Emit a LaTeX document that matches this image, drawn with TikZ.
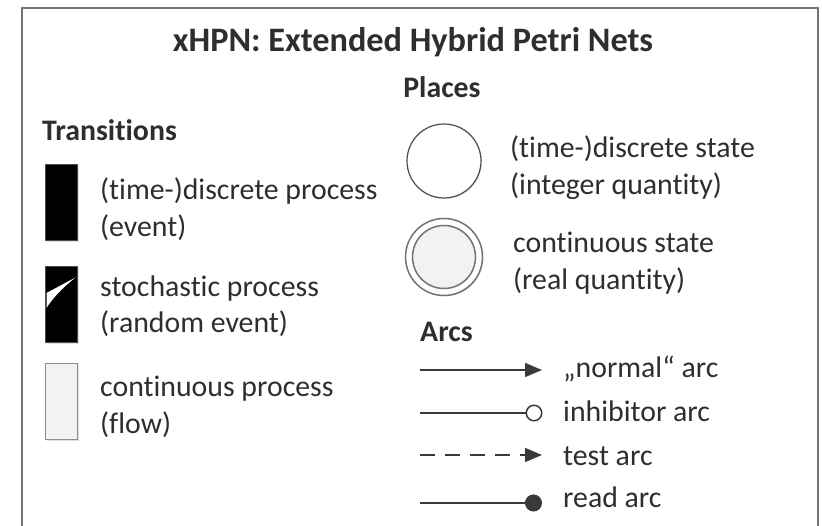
\documentclass[tikz,border=0pt]{standalone}
\usepackage{fontspec}
\setmainfont{Carlito}[Ligatures=CommonOff]
\usetikzlibrary{arrows.meta,shadows}
\definecolor{txt}{HTML}{2E2E2E}
\definecolor{ln}{HTML}{3A3A3A}
\tikzset{
  body/.style={anchor=base west,inner sep=0pt,text=txt,font=\fontsize{29.8}{36}\selectfont},
  head/.style={anchor=base,inner sep=0pt,text=txt,font=\fontsize{29.8}{36}\selectfont\bfseries},
  trans/.style={draw=black!70,line width=1pt,minimum width=32pt,minimum height=76pt,inner sep=0pt,
    drop shadow={shadow xshift=1.5pt,shadow yshift=-1.5pt,opacity=.25}},
  arcline/.style={draw=ln,line width=1.5pt},
  tri/.style={-{Triangle[length=17pt 0 0,width=14pt 0 0]}},
  endcirc/.style={circle,draw=ln,line width=1.5pt,minimum size=15.5pt,inner sep=0pt},
}
\begin{document}
\begin{tikzpicture}[x=1pt,y=-1pt]
\useasboundingbox (0,0) rectangle (822,526);
\begin{scope}
\clip (0,0) rectangle (822,526);
\draw[black!55,line width=2pt] (22,8) rectangle (818,545);
\end{scope}
% title and headings
\node[head,font=\fontsize{34.3}{40}\selectfont\bfseries] (title) at (413,52) {xHPN: Extended Hybrid Petri Nets};
\node[head] (places) at (442,98) {Places};
\node[head,anchor=base west] (transitions) at (42,141) {Transitions};
\node[head,anchor=base west] (arcs) at (420,342) {Arcs};
% transitions
\node[trans,fill=black] (td) at (61,202.5) {};
\node[trans,fill=black] (ts) at (61,304.5) {};
\fill[white] (46.5,293) -- (75.5,277.5) .. controls (62,288) and (52,299) .. (46.5,308) -- cycle;
\node[trans,fill=black!5,draw=black!45] (tc) at (61,401.5) {};
\node[body] (tdl1) at (100,200) {(time-)discrete process};
\node[body] (tdl2) at (100,237) {(event)};
\node[body] (tsl1) at (100,297) {stochastic process};
\node[body] (tsl2) at (100,333) {(random event)};
\node[body] (tcl1) at (100,397) {continuous process};
\node[body] (tcl2) at (100,434) {(flow)};
% places
\node[circle,draw=black!70,line width=1.2pt,minimum size=74pt,inner sep=0pt,fill=white,
  drop shadow={shadow xshift=1pt,shadow yshift=-1pt,opacity=.2}] (pd) at (444,161) {};
\node[circle,draw=black!55,line width=1.5pt,minimum size=77pt,inner sep=0pt,fill=white,
  drop shadow={shadow xshift=1pt,shadow yshift=-1pt,opacity=.2}] (pc) at (444,257) {};
\node[circle,draw=black!55,line width=1.5pt,minimum size=63pt,inner sep=0pt,fill=black!5] (pci) at (pc) {};
\node[body] (pdl1) at (510,158) {(time-)discrete state};
\node[body] (pdl2) at (510,195) {(integer quantity)};
\node[body] (pcl1) at (513,253) {continuous state};
\node[body] (pcl2) at (513,290) {(real quantity)};
% arcs
\coordinate (a1s) at (420,370); \coordinate (a1e) at (542,370);
\coordinate (a2s) at (420,413); \node[endcirc,fill=white] (a2e) at (534,413) {};
\coordinate (a3s) at (420,455); \coordinate (a3e) at (542,455);
\coordinate (a4s) at (420,503); \node[endcirc,fill=ln] (a4e) at (533.5,503) {};
\draw[arcline,tri] (a1s) -- (a1e);
\draw[arcline] (a2s) -- (a2e);
\draw[arcline,dash pattern=on 15pt off 10pt,tri] (a3s) -- (a3e);
\draw[arcline] (a4s) -- (a4e);
\node[body] (a1l) at (563,378) {„normal“ arc};
\node[body] (a2l) at (563,421) {inhibitor arc};
\node[body] (a3l) at (563,465) {test arc};
\node[body] (a4l) at (563,507) {read arc};
\end{tikzpicture}
\end{document}
